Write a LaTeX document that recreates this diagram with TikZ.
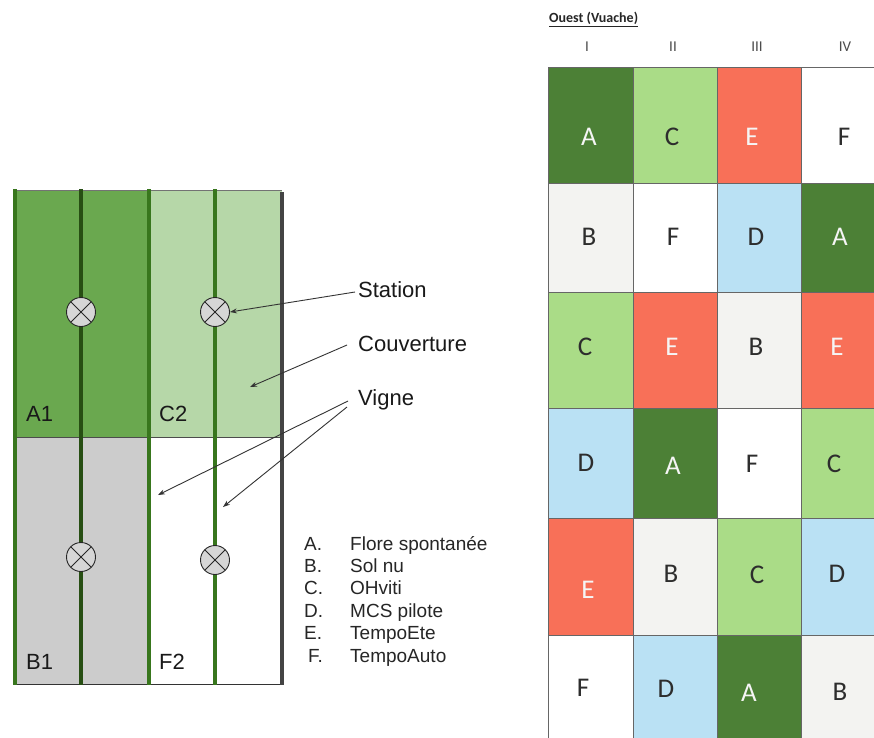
\documentclass[tikz,border=0pt]{standalone}
\usepackage{fontspec}
\setmainfont{Liberation Sans}
\newfontfamily\calib{Carlito}
\usetikzlibrary{arrows.meta}
\definecolor{plotA}{RGB}{106,168,79}
\definecolor{plotC}{RGB}{182,215,168}
\definecolor{plotB}{RGB}{204,204,204}
\definecolor{vine}{RGB}{39,78,19}
\definecolor{vineb}{RGB}{56,118,29}
\definecolor{edgegray}{RGB}{68,68,68}
\definecolor{gA}{RGB}{76,128,54}
\definecolor{gC}{RGB}{170,220,135}
\definecolor{gE}{RGB}{248,112,88}
\definecolor{gD}{RGB}{186,225,244}
\definecolor{gB}{RGB}{243,243,241}
\definecolor{gF}{RGB}{255,255,255}
\definecolor{txt}{RGB}{45,45,45}
\definecolor{stfill}{RGB}{214,214,214}
\begin{document}
\begin{tikzpicture}[x=1pt,y=-1pt,
  station/.style={circle, draw=black!85, fill=stfill, minimum size=29pt, inner sep=0pt, line width=0.9pt,
    path picture={\draw[line width=0.9pt, black!85] (path picture bounding box.north west) -- (path picture bounding box.south east)
      (path picture bounding box.south west) -- (path picture bounding box.north east);}},
  arr/.style={draw=black!80, line width=0.9pt, -{Stealth[length=7pt,width=5pt]}},
  biglbl/.style={anchor=base west, inner sep=0pt, font=\fontsize{22}{26}\selectfont, text=black!90},
  leg/.style={anchor=base west, inner sep=0pt, font=\fontsize{19}{22}\selectfont, text=black!85},
  cellletter/.style={inner sep=0pt, font=\calib\fontsize{27}{30}\selectfont, text=txt},
  wletter/.style={cellletter, text=white!96!black},
  roman/.style={inner sep=0pt, font=\calib\fontsize{15}{17}\selectfont, text=black!70},
  gridline/.style={draw=black!60, line width=0.8pt},
  vinel/.style={draw=vine, line width=4pt},
  vinem/.style={draw=vineb, line width=3.5pt}
]
\clip (0,0) rectangle (874,737);
\fill[white] (0,0) rectangle (874,737);

% ---------- left plot ----------
\fill[plotA] (15,190) rectangle (149,437);
\fill[plotC] (149,190) rectangle (282,437);
\fill[plotB] (15,437) rectangle (149,684);
\draw[black!55, line width=0.8pt] (15,190) -- (282,190);
\draw[black!70, line width=0.8pt] (15,437) -- (282,437);
\draw[black!80, line width=0.8pt] (15,684) -- (282,684);
\draw[vinem] (15,189) -- (15,685);
\draw[vinem] (149,189) -- (149,685);
\draw[vinel] (81,189) -- (81,685);
\draw[vinem] (215,189) -- (215,685);
\draw[draw=edgegray, line width=4pt] (282,192) -- (282,685);

\node[station] (s1) at (81,312) {};
\node[station] (s2) at (215,312) {};
\node[station] (s3) at (81,557) {};
\node[station] (s4) at (215,560) {};

\node[biglbl] (a1) at (26,421) {A1};
\node[biglbl] (c2) at (159,421) {C2};
\node[biglbl] (b1) at (26,669) {B1};
\node[biglbl] (f2) at (159,669) {F2};

\node[biglbl] (lstation) at (358,297) {Station};
\node[biglbl] (lcouv) at (358,351) {Couverture};
\node[biglbl] (lvigne) at (358,405) {Vigne};

\coordinate (stS) at (355,292);
\coordinate (coS) at (347,345);
\coordinate (coE) at (250,387);
\coordinate (viS1) at (348,401);
\coordinate (viS2) at (347,407);
\coordinate (viE1) at (158,495);
\coordinate (viE2) at (223,507);
\draw[arr] (stS) -- (s2.east);
\draw[arr] (coS) -- (coE);
\draw[arr] (viS1) -- (viE1);
\draw[arr] (viS2) -- (viE2);

% legend
\node[leg] (kA) at (304,550) {A.};
\node[leg] (kB) at (304,572.4) {B.};
\node[leg] (kC) at (304,594.8) {C.};
\node[leg] (kD) at (304,617.2) {D.};
\node[leg] (kE) at (304,639.6) {E.};
\node[leg] (kF) at (308,662) {F.};
\node[leg] (tA) at (350,550) {Flore spontanée};
\node[leg] (tB) at (350,572.4) {Sol nu};
\node[leg] (tC) at (350,594.8) {OHviti};
\node[leg] (tD) at (350,617.2) {MCS pilote};
\node[leg] (tE) at (350,639.6) {TempoEte};
\node[leg] (tF) at (350,662) {TempoAuto};

% ---------- right grid ----------
\node[anchor=base west, inner sep=0pt, font=\calib\bfseries\fontsize{14}{16}\selectfont, text=black!85] (hdr) at (549,22.7) {\underline{Ouest (Vuache)}};
\node[roman] (h1) at (587,47) {I};
\node[roman] (h2) at (673,47) {II};
\node[roman] (h3) at (757,47) {III};
\node[roman] (h4) at (845,47) {IV};

% row 1
\fill[gA] (548,67) rectangle (633,183);
\fill[gC] (633,67) rectangle (717,183);
\fill[gE] (717,67) rectangle (801,183);
\fill[gF] (801,67) rectangle (885,183);
% row 2
\fill[gB] (548,183) rectangle (633,292);
\fill[gF] (633,183) rectangle (717,292);
\fill[gD] (717,183) rectangle (801,292);
\fill[gA] (801,183) rectangle (885,292);
% row 3
\fill[gC] (548,292) rectangle (633,408);
\fill[gE] (633,292) rectangle (717,408);
\fill[gB] (717,292) rectangle (801,408);
\fill[gE] (801,292) rectangle (885,408);
% row 4
\fill[gD] (548,408) rectangle (633,518);
\fill[gA] (633,408) rectangle (717,518);
\fill[gF] (717,408) rectangle (801,518);
\fill[gC] (801,408) rectangle (885,518);
% row 5
\fill[gE] (548,518) rectangle (633,635);
\fill[gB] (633,518) rectangle (717,635);
\fill[gC] (717,518) rectangle (801,635);
\fill[gD] (801,518) rectangle (885,635);
% row 6
\fill[gF] (548,635) rectangle (633,750);
\fill[gD] (633,635) rectangle (717,750);
\fill[gA] (717,635) rectangle (801,750);
\fill[gB] (801,635) rectangle (885,750);

\draw[gridline] (548,67) rectangle (885,750);
\foreach \x in {633,717,801} \draw[gridline] (\x,67) -- (\x,750);
\foreach \y in {183,292,408,518,635} \draw[gridline] (548,\y) -- (885,\y);

\node[wletter] (g11) at (589,137) {A};
\node[cellletter] (g12) at (672,137) {C};
\node[wletter] (g13) at (752,137) {E};
\node[cellletter] (g14) at (844,137) {F};

\node[cellletter] (g21) at (589,237) {B};
\node[cellletter] (g22) at (673,237) {F};
\node[cellletter] (g23) at (756,237) {D};
\node[wletter] (g24) at (840,237) {A};

\node[cellletter] (g31) at (585,347) {C};
\node[wletter] (g32) at (672,347) {E};
\node[cellletter] (g33) at (756,347) {B};
\node[wletter] (g34) at (837,347) {E};

\node[cellletter] (g41) at (586,463) {D};
\node[wletter] (g42) at (673,466) {A};
\node[cellletter] (g43) at (752,464) {F};
\node[cellletter] (g44) at (834,464) {C};

\node[wletter] (g51) at (588,590) {E};
\node[cellletter] (g52) at (671,574) {B};
\node[cellletter] (g53) at (757,575) {C};
\node[cellletter] (g54) at (837,574) {D};

\node[cellletter] (g61) at (583,688) {F};
\node[cellletter] (g62) at (666,689) {D};
\node[wletter] (g63) at (749,693) {A};
\node[cellletter] (g64) at (840,692) {B};
\end{tikzpicture}
\end{document}
